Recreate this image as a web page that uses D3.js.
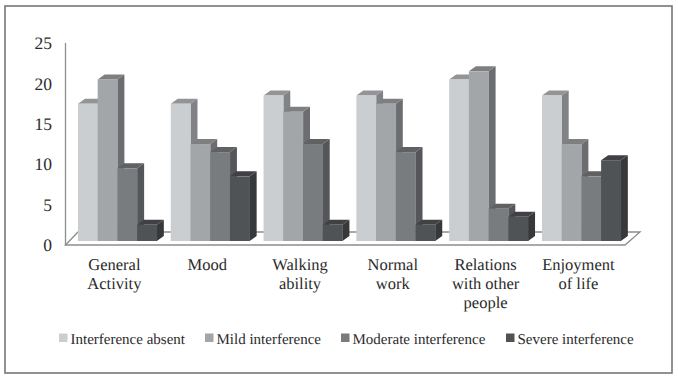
<!DOCTYPE html>
<html>
<head>
<meta charset="utf-8">
<script src="https://cdn.jsdelivr.net/npm/d3@7"></script>
<style>
  html, body { margin: 0; padding: 0; background: #fff; }
  svg { display: block; }
  text { font-family: "Liberation Serif", serif; fill: #2b2b2b; text-rendering: geometricPrecision; }
</style>
</head>
<body>
<div id="chart"></div>
<script>
var categories = [["General", "Activity"], ["Mood"], ["Walking", "ability"], ["Normal", "work"], ["Relations", "with other", "people"], ["Enjoyment", "of life"]];
var seriesNames = ["Interference absent", "Mild interference", "Moderate interference", "Severe interference"];
var absent = [17, 17, 18, 18, 20, 18];
var mild = [20, 12, 16, 17, 21, 12];
var moderate = [9, 11, 12, 11, 4, 8];
var severe = [2, 8, 2, 2, 3, 10];
var yTicks = [0, 5, 10, 15, 20, 25];

var seriesValues = [absent, mild, moderate, severe];
var frontColors = ["#cbced1", "#a3a6a8", "#797c7f", "#505356"];
var topColors = ["#929496", "#7d7f81", "#5f6163", "#3f4144"];
var sideColors = ["#808285", "#6b6d70", "#555659", "#37383a"];
var legendX = [59, 205, 341, 506];

var width = 678, height = 380;
var depthX = 7, depthY = 5;

var svg = d3.select("#chart").append("svg")
    .attr("width", width)
    .attr("height", height);

svg.append("rect")
    .attr("x", 5).attr("y", 6)
    .attr("width", 667).attr("height", 367)
    .attr("fill", "#fff")
    .attr("stroke", "#747678")
    .attr("stroke-width", 1.6);

var x = d3.scaleBand()
    .domain(d3.range(categories.length))
    .range([71, 71 + 92.8 * 6])
    .paddingInner(0.15)
    .paddingOuter(0.075);

var inner = d3.scaleBand()
    .domain(d3.range(seriesNames.length))
    .range([0, x.bandwidth()]);

var y = d3.scaleLinear().domain([0, 25]).range([241, 39]);

// floor of the 3d box
var floorFront = y(0) + 4, floorBack = y(0) - 9;
svg.append("path")
    .attr("d", "M65.5," + floorFront + "L78," + floorBack + "H640L625," + floorFront + "Z")
    .attr("fill", "#fff")
    .attr("stroke", "#8b8d8f")
    .attr("stroke-width", 1.3);

svg.append("line")
    .attr("x1", 65.5).attr("x2", 65.5)
    .attr("y1", y(25) + 4).attr("y2", floorFront)
    .attr("stroke", "#8b8d8f")
    .attr("stroke-width", 1.3);

var axis = svg.append("g")
    .attr("transform", "translate(52,4)")
    .call(d3.axisLeft(y).tickValues(yTicks).tickSize(0).tickPadding(0));
axis.select(".domain").remove();
axis.selectAll("text")
    .style("font-family", '"Liberation Serif", serif')
    .style("font-size", "17.5px")
    .attr("fill", "#2b2b2b");

var groups = svg.selectAll("g.group")
    .data(categories)
    .enter().append("g")
    .attr("class", "group")
    .attr("transform", function(d, i) { return "translate(" + x(i) + ",0)"; });

groups.each(function(cat, c) {
  var g = d3.select(this);
  seriesValues.forEach(function(values, s) {
    var x0 = inner(s), x1 = x0 + inner.bandwidth();
    var top = y(values[c]), base = y(0);
    // side
    g.append("path")
      .attr("d", "M" + x1 + "," + top + "l" + depthX + "," + (-depthY) + "V" + (base - depthY) + "L" + x1 + "," + base + "Z")
      .attr("fill", sideColors[s]);
    // top
    g.append("path")
      .attr("d", "M" + x0 + "," + top + "l" + depthX + "," + (-depthY) + "H" + (x1 + depthX) + "L" + x1 + "," + top + "Z")
      .attr("fill", topColors[s]);
    // front
    g.append("rect")
      .attr("x", x0).attr("y", top)
      .attr("width", inner.bandwidth() + 0.3)
      .attr("height", base - top)
      .attr("fill", frontColors[s]);
  });
});

categories.forEach(function(lines, c) {
  var label = svg.append("text")
    .attr("text-anchor", "middle")
    .attr("font-size", 16.5)
    .attr("y", 270);
  lines.forEach(function(line, l) {
    label.append("tspan")
      .attr("x", x(c) + x.bandwidth() / 2 - 3)
      .attr("dy", l ? 19 : 0)
      .text(line);
  });
});

var legend = svg.selectAll("g.legend")
    .data(seriesNames)
    .enter().append("g")
    .attr("class", "legend")
    .attr("transform", function(d, i) { return "translate(" + legendX[i] + ",0)"; });

legend.append("rect")
    .attr("y", 333.5)
    .attr("width", 8.5).attr("height", 8.5)
    .attr("fill", function(d, i) { return frontColors[i]; });

legend.append("text")
    .attr("x", 11.5)
    .attr("y", 344)
    .attr("font-size", 15)
    .text(function(d) { return d; });
</script>
</body>
</html>
